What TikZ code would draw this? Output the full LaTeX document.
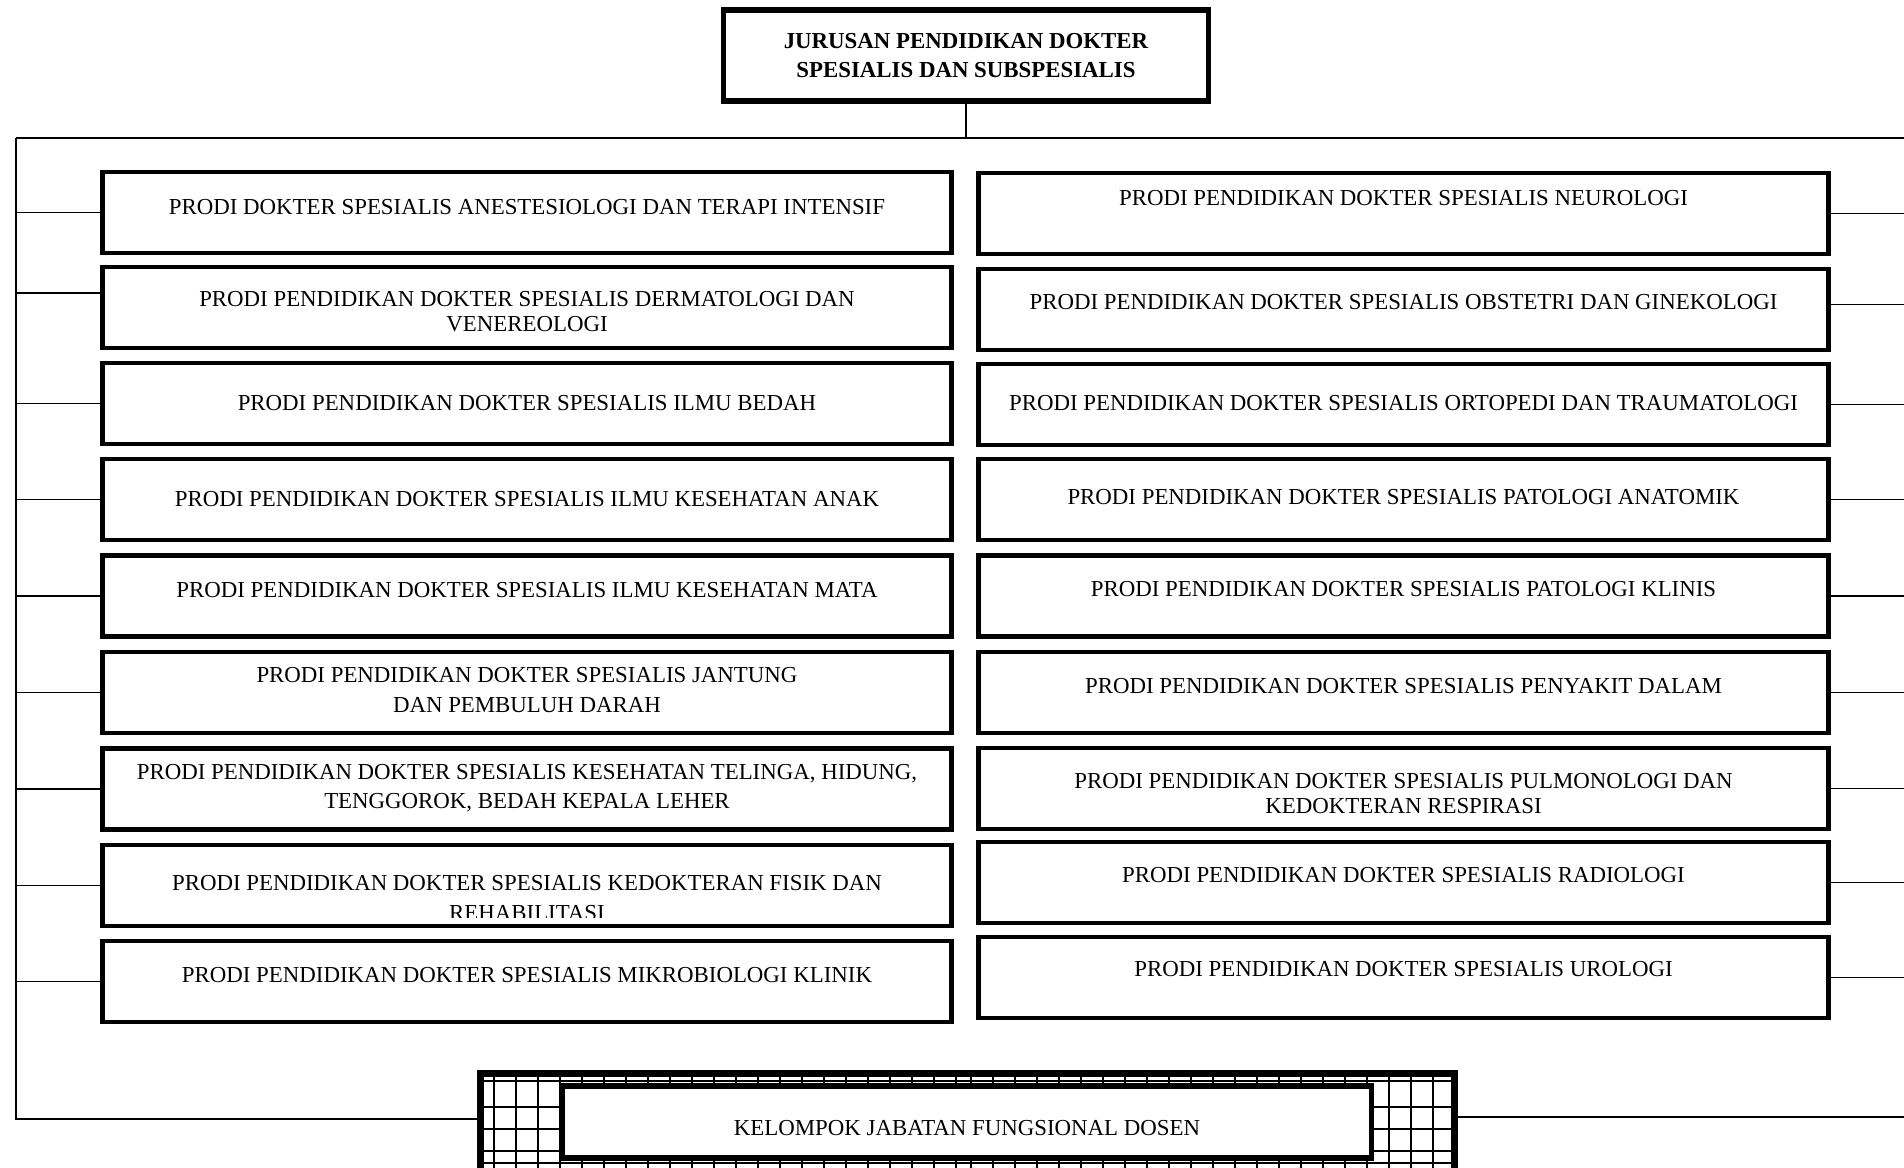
\documentclass[tikz,border=0pt]{standalone}
\usepackage{fontspec}
\setmainfont{Liberation Serif}
\begin{document}
\begin{tikzpicture}[x=0.01cm,y=-0.01cm,
  unitbox/.style={draw=black,line width=1.3pt,inner sep=0pt,fill=white},
  leftbox/.style={unitbox,minimum width=8.48cm,minimum height=0.81cm},
  rightbox/.style={unitbox,minimum width=8.49cm,minimum height=0.81cm},
  txt/.style={inner sep=0pt,anchor=base,font=\fontsize{6.5}{8}\selectfont},
  hd/.style={inner sep=0pt,anchor=base,font=\fontsize{6.5}{8}\selectfont\bfseries},
  link/.style={draw=black,line width=0.45pt},
  gridline/.style={draw=black,line width=0.6pt}]
\useasboundingbox (0,0) rectangle (1904,1168);
\fill[white] (0,0) rectangle (1904,1168);

% head unit
\node[unitbox,line width=1.45pt,minimum width=4.84cm,minimum height=0.91cm] (head) at (966,55.5) {};
\node[hd] (h1) at (966,48.5) {JURUSAN PENDIDIKAN DOKTER};
\node[hd] (h2) at (966,77.5) {SPESIALIS DAN SUBSPESIALIS};

% study programmes, left column
\node[leftbox] (L1) at (527,212.5) {};
\node[leftbox] (L2) at (527,307.5) {};
\node[leftbox] (L3) at (527,403.5) {};
\node[leftbox] (L4) at (527,499.5) {};
\node[leftbox] (L5) at (527,596) {};
\node[leftbox] (L6) at (527,692.5) {};
\node[leftbox] (L7) at (527,789) {};
\node[leftbox] (L8) at (527,885.5) {};
\node[leftbox] (L9) at (527,981.5) {};

\node[txt] (tL1) at (527,215) {PRODI DOKTER SPESIALIS ANESTESIOLOGI DAN TERAPI INTENSIF};
\node[txt] (tL2a) at (527,306.5) {PRODI PENDIDIKAN DOKTER SPESIALIS DERMATOLOGI DAN};
\node[txt] (tL2b) at (527,331.5) {VENEREOLOGI};
\node[txt] (tL3) at (527,410.5) {PRODI PENDIDIKAN DOKTER SPESIALIS ILMU BEDAH};
\node[txt] (tL4) at (527,506.5) {PRODI PENDIDIKAN DOKTER SPESIALIS ILMU KESEHATAN ANAK};
\node[txt] (tL5) at (527,597.5) {PRODI PENDIDIKAN DOKTER SPESIALIS ILMU KESEHATAN MATA};
\node[txt] (tL6a) at (527,682.5) {PRODI PENDIDIKAN DOKTER SPESIALIS JANTUNG};
\node[txt] (tL6b) at (527,712.5) {DAN PEMBULUH DARAH};
\node[txt] (tL7a) at (527,779.5) {PRODI PENDIDIKAN DOKTER SPESIALIS KESEHATAN TELINGA, HIDUNG,};
\node[txt] (tL7b) at (527,808.5) {TENGGOROK, BEDAH KEPALA LEHER};
\begin{scope}
  \clip (103,846) rectangle (951,917);
  \node[txt] (tL8a) at (527,890) {PRODI PENDIDIKAN DOKTER SPESIALIS KEDOKTERAN FISIK DAN};
  \node[txt] (tL8b) at (527,920) {REHABILITASI};
\end{scope}
\node[txt] (tL9) at (527,982.5) {PRODI PENDIDIKAN DOKTER SPESIALIS MIKROBIOLOGI KLINIK};

% study programmes, right column
\node[rightbox] (R1) at (1403.5,213.5) {};
\node[rightbox] (R2) at (1403.5,309.5) {};
\node[rightbox] (R3) at (1403.5,404.5) {};
\node[rightbox] (R4) at (1403.5,499.5) {};
\node[rightbox] (R5) at (1403.5,596) {};
\node[rightbox] (R6) at (1403.5,692.5) {};
\node[rightbox] (R7) at (1403.5,788.5) {};
\node[rightbox] (R8) at (1403.5,882.5) {};
\node[rightbox] (R9) at (1403.5,977.5) {};

\node[txt] (tR1) at (1403.5,205.5) {PRODI PENDIDIKAN DOKTER SPESIALIS NEUROLOGI};
\node[txt] (tR2) at (1403.5,309.5) {PRODI PENDIDIKAN DOKTER SPESIALIS OBSTETRI DAN GINEKOLOGI};
\node[txt] (tR3) at (1403.5,410.5) {PRODI PENDIDIKAN DOKTER SPESIALIS ORTOPEDI DAN TRAUMATOLOGI};
\node[txt] (tR4) at (1403.5,504.5) {PRODI PENDIDIKAN DOKTER SPESIALIS PATOLOGI ANATOMIK};
\node[txt] (tR5) at (1403.5,596.5) {PRODI PENDIDIKAN DOKTER SPESIALIS PATOLOGI KLINIS};
\node[txt] (tR6) at (1403.5,693.5) {PRODI PENDIDIKAN DOKTER SPESIALIS PENYAKIT DALAM};
\node[txt] (tR7a) at (1403.5,788.5) {PRODI PENDIDIKAN DOKTER SPESIALIS PULMONOLOGI DAN};
\node[txt] (tR7b) at (1403.5,813.5) {KEDOKTERAN RESPIRASI};
\node[txt] (tR8) at (1403.5,883) {PRODI PENDIDIKAN DOKTER SPESIALIS RADIOLOGI};
\node[txt] (tR9) at (1403.5,976.5) {PRODI PENDIDIKAN DOKTER SPESIALIS UROLOGI};

% lecturer group: hatched frame with inner box
\node[draw=black,line width=1.3pt,inner sep=0pt,minimum width=9.71cm,minimum height=1.15cm] (kjf) at (967.5,1132.5) {};
\begin{scope}
  \clip (482,1075) rectangle (1453,1190);
  \foreach \gx in {494,516,...,956} \draw[gridline] (\gx,1075) -- (\gx,1190);
  \foreach \gx in {1433,1411,...,960} \draw[gridline] (\gx,1075) -- (\gx,1190);
  \foreach \gy in {1081,1107,1129,1151,1163} \draw[gridline] (482,\gy) -- (1453,\gy);
\end{scope}
\node[unitbox,line width=1.45pt,minimum width=8.08cm,minimum height=0.72cm] (kjfin) at (967,1122) {};
\node[txt] (tK) at (967,1135.5) {KELOMPOK JABATAN FUNGSIONAL DOSEN};
\draw[line width=1.3pt] (kjf.north west) rectangle (kjf.south east);

% connectors
\coordinate (tl) at (16,138);
\coordinate (tr) at (1904,138);
\coordinate (bl) at (16,1119);
\coordinate (br) at (1904,1117);
\draw[link] (head.south) -- (head.south |- tl);
\draw[link] (tl) -- (tr);
\draw[link] (tl) -- (bl) -- (bl -| kjf.west);
\draw[link] (kjf.east |- br) -- (br);
\foreach \n in {1,3,4,5,6,7,8,9} \draw[link] (L\n.west) -- (L\n.west -| tl);
\draw[link] ([yshift=0.145cm]L2.west) -- ([yshift=0.145cm]L2.west -| tl);
\foreach \n in {1,3,4,5,6,7,8,9} \draw[link] (R\n.east) -- (R\n.east -| tr);
\draw[link] ([yshift=0.05cm]R2.east) -- ([yshift=0.05cm]R2.east -| tr);
\end{tikzpicture}
\end{document}
